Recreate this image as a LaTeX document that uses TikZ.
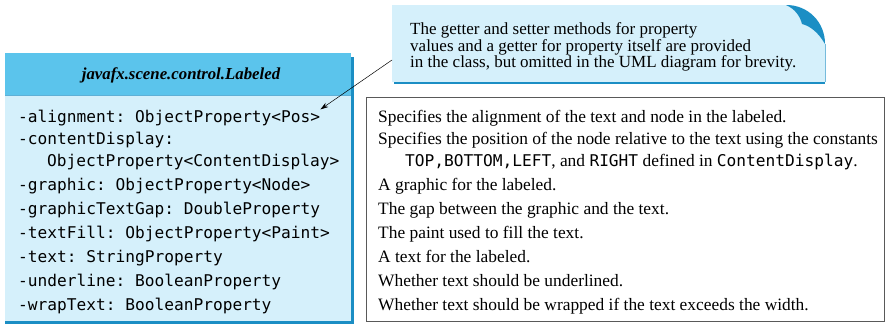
\documentclass[tikz,border=0pt]{standalone}
\usepackage{fontspec}
\setmainfont{Liberation Serif}
\setmonofont[Scale=0.93]{DejaVu Sans Mono}
\usetikzlibrary{arrows.meta}

\definecolor{hdrblue}{HTML}{5BC4EC}
\definecolor{bodyblue}{HTML}{D5F0FB}
\definecolor{shadeblue}{HTML}{1B8EC4}

\begin{document}
\begin{tikzpicture}[x=1pt, y=-1pt,
    every node/.style={inner sep=0pt},
    attr/.style={anchor=base west, font=\fontsize{17.4}{19}\selectfont\ttfamily},
    desc/.style={anchor=base west, font=\fontsize{17.4}{19}\selectfont}]
\useasboundingbox (0,0) rectangle (888,324);

% --- Left: UML class box ---
\fill[bodyblue] (5,53) rectangle (351,321);
\fill[hdrblue] (5,53) rectangle (351,95);
\draw[shadeblue, line width=3pt] (352,57) -- (352,322.5) -- (5,322.5);
\draw[shadeblue!70, line width=0.8pt] (5,95) -- (351,95);
\node (cls) at (181,75) {\fontsize{16.8}{19}\selectfont\bfseries\itshape javafx.scene.control.Labeled};

% attributes
\node[attr] (a1)  at (18,122) {-alignment: ObjectProperty<Pos>};
\node[attr] (a2a) at (18,144) {-contentDisplay:};
\node[attr] (a2b) at (47,166) {ObjectProperty<ContentDisplay>};
\node[attr] (a3)  at (18,190) {-graphic: ObjectProperty<Node>};
\node[attr] (a4)  at (18,214) {-graphicTextGap: DoubleProperty};
\node[attr] (a5)  at (18,238) {-textFill: ObjectProperty<Paint>};
\node[attr] (a6)  at (18,262) {-text: StringProperty};
\node[attr] (a7)  at (18,286) {-underline: BooleanProperty};
\node[attr] (a8)  at (18,310) {-wrapText: BooleanProperty};

% --- Right: descriptions ---
\draw[gray!70!black, line width=1pt] (366,97) rectangle (884,321);
\node[desc] (d1)  at (378,122) {Specifies the alignment of the text and node in the labeled.};
\node[desc] (d2a) at (378,144) {Specifies the position of the node relative to the text using the constants};
\node[desc] (d2b) at (405,166) {\texttt{TOP,BOTTOM,LEFT}, and \texttt{RIGHT} defined in \texttt{ContentDisplay}.};
\node[desc] (d3)  at (378,190) {A graphic for the labeled.};
\node[desc] (d4)  at (378,214) {The gap between the graphic and the text.};
\node[desc] (d5)  at (378,238) {The paint used to fill the text.};
\node[desc] (d6)  at (378,262) {A text for the labeled.};
\node[desc] (d7)  at (378,286) {Whether text should be underlined.};
\node[desc] (d8)  at (378,310) {Whether text should be wrapped if the text exceeds the width.};

% --- Top: note with curled corner ---
\fill[bodyblue] (392,5) -- (788,5) .. controls (808,5) and (825,22) .. (825,44) -- (825,82) -- (392,82) -- cycle;
\fill[shadeblue] (786,5) .. controls (808,5) and (825,22) .. (825,44)
    .. controls (818,32) and (810,26) .. (802,24) .. controls (800,16) and (795,9) .. (786,5);
\draw[shadeblue, line width=2.5pt] (394,83) -- (825,83);
\draw[shadeblue!60, line width=0.6pt] (825,44) -- (825,82);
\node[anchor=north west, align=left, font=\fontsize{17}{16.5}\selectfont] (notetext) at (410,22.5)
    {The getter and setter methods for property\\
     values and a getter for property itself are provided\\
     in the class, but omitted in the UML diagram for brevity.};
\coordinate (notetail) at (392,60);

% pointer to the attributes
\draw[-{Stealth[length=8pt, width=5pt]}, line width=0.5pt] (notetail) -- (a1.north east);

\end{tikzpicture}
\end{document}
